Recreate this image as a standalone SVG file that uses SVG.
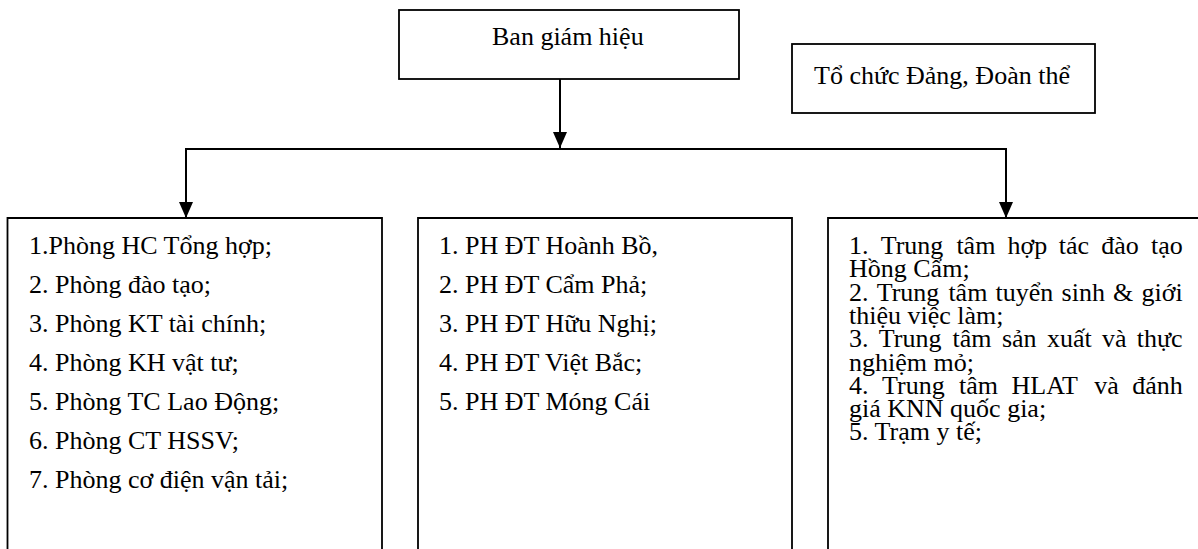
<svg xmlns="http://www.w3.org/2000/svg" width="1198" height="549" viewBox="0 0 1198 549">
  <style>
    .box { fill: none; stroke: #000; stroke-width: 1.8; }
    .conn { fill: none; stroke: #000; stroke-width: 2; }
    .t { font-family: "Liberation Serif", "Times New Roman", "DejaVu Serif", serif; font-size: 26px; fill: #000; }
  </style>
  <defs>
    <marker id="arrow" viewBox="0 0 16 14" refX="16" refY="7" markerWidth="16" markerHeight="14" markerUnits="userSpaceOnUse" orient="auto">
      <path d="M0,0 L16,7 L0,14 Z" fill="#000"/>
    </marker>
  </defs>
  <rect width="1198" height="549" fill="#fff"/>

  <!-- Top node: school board -->
  <g id="ban-giam-hieu">
    <rect class="box" x="399" y="10" width="340" height="69"/>
    <text class="t" x="492" y="45">Ban giám hiệu</text>
  </g>

  <!-- Party and union organisations -->
  <g id="to-chuc-dang">
    <rect class="box" x="792" y="44" width="303" height="69"/>
    <text class="t" x="814" y="84">Tổ chức Đảng, Đoàn thể</text>
  </g>

  <!-- Connectors -->
  <g id="connectors">
    <line class="conn" x1="560" y1="79" x2="560" y2="148" marker-end="url(#arrow)"/>
    <polyline class="conn" points="186,218 186,149 1006,149 1006,218"/>
    <line class="conn" x1="186" y1="149" x2="186" y2="218" marker-end="url(#arrow)"/>
    <line class="conn" x1="1006" y1="149" x2="1006" y2="218" marker-end="url(#arrow)"/>
  </g>

  <!-- Functional offices -->
  <g id="phong-chuc-nang">
    <path class="box" d="M7.5,549 V218 H382 V549"/>
    <text class="t">
      <tspan x="29" y="254">1.Phòng HC Tổng hợp;</tspan>
      <tspan x="29" y="293">2. Phòng đào tạo;</tspan>
      <tspan x="29" y="332">3. Phòng KT tài chính;</tspan>
      <tspan x="29" y="371">4. Phòng KH vật tư;</tspan>
      <tspan x="29" y="410">5. Phòng TC Lao Động;</tspan>
      <tspan x="29" y="449">6. Phòng CT HSSV;</tspan>
      <tspan x="29" y="488">7. Phòng cơ điện vận tải;</tspan>
    </text>
  </g>

  <!-- Branch training campuses -->
  <g id="phan-hieu">
    <path class="box" d="M418,549 V218 H792 V549"/>
    <text class="t">
      <tspan x="439" y="254">1. PH ĐT Hoành Bồ,</tspan>
      <tspan x="439" y="293">2. PH ĐT Cẩm Phả;</tspan>
      <tspan x="439" y="332">3. PH ĐT Hữu Nghị;</tspan>
      <tspan x="439" y="371">4. PH ĐT Việt Bắc;</tspan>
      <tspan x="439" y="410">5. PH ĐT Móng Cái</tspan>
    </text>
  </g>

  <!-- Centres and units (justified paragraph) -->
  <g id="trung-tam">
    <path class="box" d="M828,549 V218 H1198"/>
    <text class="t">
      <tspan x="849" y="254">1.</tspan><tspan x="880.7">Trung</tspan><tspan x="956.4">tâm</tspan><tspan x="1007.6">hợp</tspan><tspan x="1058.8">tác</tspan><tspan x="1101.3">đào</tspan><tspan x="1151">tạo</tspan>
      <tspan x="849" y="277.3">Hồng Cẩm;</tspan>
      <tspan x="849" y="300.6">2.</tspan><tspan x="876.7">Trung</tspan><tspan x="948.4">tâm</tspan><tspan x="995.6">tuyển</tspan><tspan x="1061.6">sinh</tspan><tspan x="1113.1">&amp;</tspan><tspan x="1141.5">giới</tspan>
      <tspan x="849" y="323.9">thiệu việc làm;</tspan>
      <tspan x="849" y="347.2">3.</tspan><tspan x="878.8">Trung</tspan><tspan x="952.6">tâm</tspan><tspan x="1001.9">sản</tspan><tspan x="1046.9">xuất</tspan><tspan x="1102">và</tspan><tspan x="1136.8">thực</tspan>
      <tspan x="849" y="370.5">nghiệm mỏ;</tspan>
      <tspan x="849" y="393.8">4.</tspan><tspan x="882">Trung</tspan><tspan x="959">tâm</tspan><tspan x="1011.5">HLAT</tspan><tspan x="1094.3">và</tspan><tspan x="1132.3">đánh</tspan>
      <tspan x="849" y="417.1">giá KNN quốc gia;</tspan>
      <tspan x="849" y="440.4">5. Trạm y tế;</tspan>
    </text>
  </g>
</svg>
